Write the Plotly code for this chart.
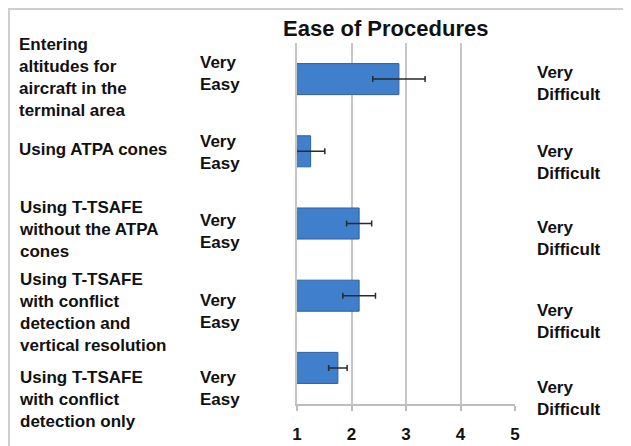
import plotly.graph_objects as go

categories = [
    "Entering altitudes for aircraft in the terminal area",
    "Using ATPA cones",
    "Using T-TSAFE without the ATPA cones",
    "Using T-TSAFE with conflict detection and vertical resolution",
    "Using T-TSAFE with conflict detection only",
]
category_labels = [
    "Entering<br>altitudes for<br>aircraft in the<br>terminal area",
    "Using ATPA cones",
    "Using T-TSAFE<br>without the ATPA<br>cones",
    "Using T-TSAFE<br>with conflict<br>detection and<br>vertical resolution",
    "Using T-TSAFE<br>with conflict<br>detection only",
]
values = [2.87, 1.25, 2.14, 2.14, 1.75]
errors = [0.48, 0.26, 0.23, 0.30, 0.17]
tick_values = [1, 2, 3, 4, 5]
tick_labels = ["1", "2", "3", "4", "5"]
left_anchor_text = "Very<br>Easy"
right_anchor_text = "Very<br>Difficult"
title_text = "Ease of Procedures"

OFF = 8  # page body margin
W, H = 631 - OFF, 446 - OFF
L, R, T, B = 297 - OFF, 515 - OFF, 43 - OFF, 404 - OFF  # plot area in figure pixels


def px(x):
    return (x - OFF - L) / (R - L)


def py(y):
    return (B - (y - OFF)) / (B - T)


FONT = "Liberation Sans, Arial, sans-serif"

fig = go.Figure()
fig.add_trace(go.Bar(
    y=categories,
    x=values,
    orientation="h",
    marker=dict(color="#3f7fcb", line=dict(color="#2d60a0", width=1)),
    error_x=dict(type="data", array=errors, visible=True, color="#2a2a2a",
                 thickness=1.5, width=3),
    hoverinfo="x",
))

# label positions (reference page pixel centres)
label_y = [78, 149, 229, 312, 399]
easy_y = [73, 152, 231, 311, 388]
diff_y = [83, 162, 239, 321, 398]

annotations = []
for lab, y in zip(category_labels, label_y):
    annotations.append(dict(text="<b>%s</b>" % lab, x=px(17), y=py(y), xref="paper", yref="paper",
                            xanchor="left", yanchor="middle", align="left", showarrow=False,
                            font=dict(family=FONT, size=17, color="#111")))
for y in easy_y:
    annotations.append(dict(text="<b>%s</b>" % left_anchor_text, x=px(198), y=py(y), xref="paper", yref="paper",
                            xanchor="left", yanchor="middle", align="left", showarrow=False,
                            font=dict(family=FONT, size=17, color="#111")))
for y in diff_y:
    annotations.append(dict(text="<b>%s</b>" % right_anchor_text, x=px(535), y=py(y), xref="paper", yref="paper",
                            xanchor="left", yanchor="middle", align="left", showarrow=False,
                            font=dict(family=FONT, size=17, color="#111")))
annotations.append(dict(text="<b>%s</b>" % title_text, x=px(385), y=py(29), xref="paper", yref="paper",
                        xanchor="center", yanchor="middle", showarrow=False,
                        font=dict(family=FONT, size=22, color="#111")))

fig.update_layout(
    width=W, height=H,
    margin=dict(l=L, r=W - R, t=T, b=H - B, pad=0, autoexpand=False),
    paper_bgcolor="white", plot_bgcolor="white",
    showlegend=False,
    bargap=0.57,
    annotations=annotations,
    shapes=[
        dict(type="line", xref="paper", yref="paper", x0=px(8), x1=px(660), y0=py(9), y1=py(9),
             line=dict(color="#cfcfcf", width=2)),
        dict(type="line", xref="paper", yref="paper", x0=px(9), x1=px(9), y0=py(9), y1=py(470),
             line=dict(color="#cfcfcf", width=2)),
    ],
)
fig.update_xaxes(
    range=[1, 5], tickvals=tick_values, ticktext=["<b>%s</b>" % t for t in tick_labels],
    showgrid=True, gridcolor="#c6c6c6", gridwidth=1.5,
    showline=True, linecolor="#bdbdbd", linewidth=1.5,
    ticks="outside", ticklen=5, tickcolor="#bdbdbd", tickwidth=1.5,
    ticklabelstandoff=9, automargin=False,
    tickfont=dict(family=FONT, size=17, color="#111"),
    zeroline=False,
)
fig.update_yaxes(
    autorange="reversed", showticklabels=False, showgrid=False, automargin=False,
    showline=True, linecolor="#c6c6c6", linewidth=1.5, ticks="",
)

fig.write_html("out.html")
